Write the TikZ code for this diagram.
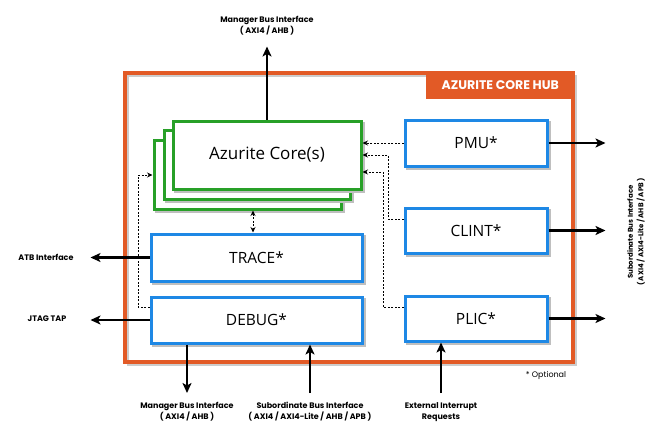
\documentclass[tikz,border=0pt]{standalone}
\usepackage{fontspec}
\setmainfont{Open Sans}
\newfontfamily\lblfont{Poppins}
\usetikzlibrary{arrows.meta,calc}
\definecolor{hubor}{RGB}{226,90,38}
\definecolor{blk}{RGB}{30,136,229}
\definecolor{grn}{RGB}{40,160,40}
\tikzset{
  blkbox/.style={draw=blk,line width=3pt,fill=white,minimum width=142pt,minimum height=46pt,font=\fontsize{15.5}{15.5}\selectfont},
  corebox/.style={draw=grn,line width=3pt,fill=white,minimum width=188pt,minimum height=68pt,font=\fontsize{17}{17}\selectfont},
  shd/.style={draw=black!25,line width=3pt},
  sarrow/.style={line width=2.2pt,-{Stealth[length=10pt,width=9pt,inset=2.5pt]}},
  dsh/.style={line width=0.8pt,dash pattern=on 2pt off 1.5pt,-{Stealth[length=5.5pt,width=5pt]}},
  dshd/.style={line width=0.8pt,dash pattern=on 2pt off 1.5pt,{Stealth[length=5.5pt,width=5pt]}-{Stealth[length=5.5pt,width=5pt]}},
  lbl/.style={font=\lblfont\fontsize{8}{11}\selectfont\bfseries,align=center},
}
\begin{document}
\begin{tikzpicture}[x=1pt,y=-1pt]
\useasboundingbox (0,0) rectangle (668,434);
\fill[white] (0,0) rectangle (668,434);
% hub frame
\draw[black!20,line width=2pt] (128,76) rectangle (576,365);
\draw[hubor,line width=4pt] (125,73) rectangle (573,362);
\node[fill=hubor,text=white,font=\lblfont\fontsize{12.5}{12.5}\selectfont\bfseries,minimum width=149pt,minimum height=28pt,anchor=north east,inner sep=0pt] (hub) at (575,71) {AZURITE CORE HUB};
% core stack
\draw[shd] (156,142) rectangle (343,211);
\node[corebox,minimum width=187pt,minimum height=69pt] (core3) at (247.5,174.5) {};
\draw[shd] (166,132) rectangle (352,201);
\node[corebox,minimum width=186pt,minimum height=69pt] (core2) at (257,164.5) {};
\draw[shd] (175,123) rectangle (363,191);
\node[corebox] (core1) at (267,155) {Azurite Core(s)};
% blue boxes
\draw[shd] (153,236) rectangle (364,283);
\node[blkbox,minimum width=211pt,minimum height=47pt] (trace) at (256.5,257.5) {TRACE*};
\draw[shd] (153,299) rectangle (364,345);
\node[blkbox,minimum width=211pt] (debug) at (256.5,320) {DEBUG*};
\draw[shd] (407,122) rectangle (549,168);
\node[blkbox] (pmu) at (476,143) {PMU*};
\draw[shd] (407,210) rectangle (549,255);
\node[blkbox,minimum height=45pt] (clint) at (476,230.5) {CLINT*};
\draw[shd] (407,298) rectangle (549,343);
\node[blkbox,minimum height=45pt] (plic) at (476,318.5) {PLIC*};
% dashed connectors
\coordinate (cA) at (388,219);
\coordinate (cB) at (388,155);
\coordinate (pA) at (383,307);
\coordinate (pB) at (383,172);
\coordinate (dA) at (138,307);
\coordinate (dB) at (138,175);
\draw[dsh] (pmu.west) -- (core1.east |- pmu.west);
\draw[dsh] (clint.west |- cA) -- (cA) -- (cB) -- (core1.east |- cB);
\draw[dsh] (plic.west |- pA) -- (pA) -- (pB) -- (core1.east |- pB);
\draw[dsh] (debug.west |- dA) -- (dA) -- (dB) -- (core3.west |- dB);
\draw[dshd] (core3.south -| 253,0) -- (trace.north -| 253,0);
% solid arrows
\draw[sarrow] (core1.north) -- ++(0,-73) coordinate (topend);
\node[lbl] (toplbl) at (267,26) {Manager Bus Interface\\( AXI4 / AHB )};
\draw[sarrow] (pmu.east) -- ++(57,0) coordinate (r1);
\draw[sarrow] (clint.east) -- ++(57,0) coordinate (r2);
\draw[sarrow] (plic.east) -- ++(57,0) coordinate (r3);
\node[lbl,font=\lblfont\fontsize{7}{10.5}\selectfont\bfseries,rotate=90] (rlbl) at (636,232) {Subordinate Bus Interface\\( AXI4 / AXI4-Lite / AHB / APB )};
\draw[sarrow] (trace.west) -- ++(-59,0) coordinate (l1);
\node[lbl] (atb) at (46,257) {ATB Interface};
\draw[sarrow] (debug.west) -- ++(-59,0) coordinate (l2);
\node[lbl] (jtag) at (47,319) {JTAG TAP};
\draw[sarrow] (debug.south -| 187,0) -- (187,393) coordinate (b1);
\node[lbl] (b1lbl) at (187,412) {Manager Bus Interface\\( AXI4 / AHB )};
\coordinate (b2) at (310,393);
\draw[sarrow] (b2) -- (debug.south -| b2);
\node[lbl] (b2lbl) at (310,412) {Subordinate Bus Interface\\( AXI4 / AXI4-Lite / AHB / APB )};
\coordinate (b3) at (441,393);
\draw[sarrow] (b3) -- (plic.south -| b3);
\node[lbl] (b3lbl) at (441,412) {External Interrupt\\Requests};
\node[font=\lblfont\fontsize{8}{8}\selectfont] (opt) at (546,375) {* Optional};
\end{tikzpicture}
\end{document}
